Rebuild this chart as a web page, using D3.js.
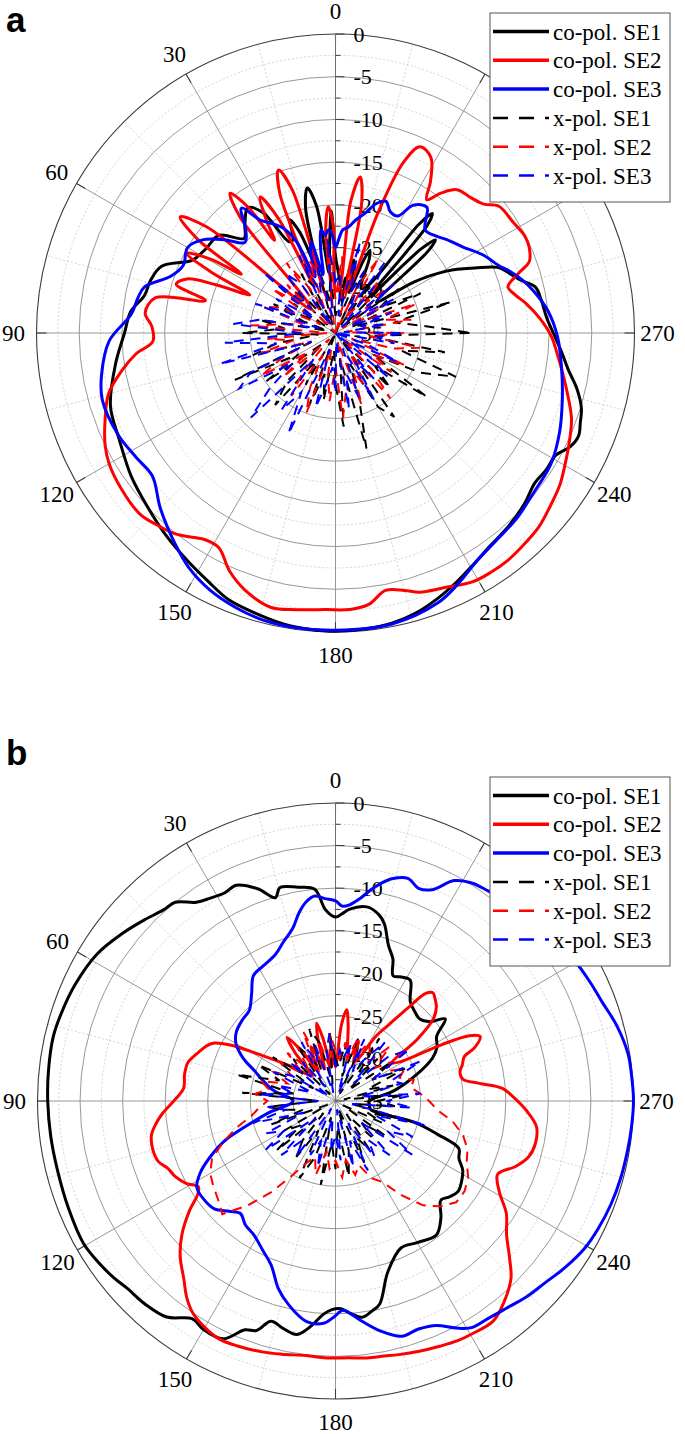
<!DOCTYPE html>
<html><head><meta charset="utf-8">
<script src="https://cdnjs.cloudflare.com/ajax/libs/d3/7.8.5/d3.min.js"></script>
<style>body{margin:0;background:#fff}svg{display:block}
.serif{font-family:"Liberation Serif","Times New Roman","DejaVu Serif",serif}
.sans{font-family:"Liberation Sans",Arial,sans-serif}</style>
</head><body>
<svg id="chart" width="685" height="1434"></svg>
<script>
// ---------------- DATA ----------------
const angleTicks = [0,30,60,90,120,150,180,210,240,270,300,330];
const angleTickLabels = ["0","30","60","90","120","150","180","210","240","270","",""];
const radialTicks = [0,-5,-10,-15,-20,-25,-30,-35];
const radialTickLabels = ["0","-5","-10","-15","-20","-25","-30","-35"];
const legendLabels = ["co-pol. SE1","co-pol. SE2","co-pol. SE3","x-pol. SE1","x-pol. SE2","x-pol. SE3"];
const seriesColors = ["#000000","#ff0000","#0000ff"];

// panel a, co-pol  [angle(deg), level(dB)]
const aCoSE1 = [[0,-26],[2,-20.7],[4,-25],[6,-28],[8.5,-20],[11,-17.7],[13.5,-20],[16,-27],[19.5,-22.5],[22,-20.7],[24.5,-23],[27,-23],[31,-18.6],[35,-17.1],[40,-18.5],[44,-19.6],[50,-17.2],[57,-16.9],[63,-16.2],[69,-13.2],[74,-12.5],[79,-12.2],[84,-10.9],[90,-10.3],[98,-9],[108,-7.3],[116,-6.8],[125,-5.8],[133,-5.0],[140,-4.1],[147,-3.2],[153,-2.3],[158,-1.4],[164,-0.9],[170,-0.4],[175,-0.2],[180,-0.1],[186,-0.2],[191,-0.4],[196,-0.9],[201,-1.7],[206,-2.6],[211,-3.5],[216,-4.2],[222,-4.65],[228,-5.2],[233,-5.8],[237,-5.6],[241,-5.5],[244,-4.5],[247,-4.1],[250,-4.5],[253,-4.9],[257,-6.0],[261,-7.4],[265,-8.4],[270,-9.5],[274,-10.2],[279,-10.6],[283,-11.0],[286,-12.5],[289,-13.5],[292,-14.5],[295,-17],[299,-20],[303,-24],[307,-29],[311.5,-20.5],[313,-19],[314.5,-21],[317,-29],[319.5,-18.5],[321,-17],[322.5,-19],[325,-28],[330,-29],[335.5,-25.5],[337.4,-24.5],[339,-26],[342,-30],[344.5,-27],[346,-26.2],[348,-28],[351,-31],[355,-29]];
const aCoSE2 = [[0,-30],[1.2,-22.5],[3.3,-20.2],[5.5,-23],[8,-31],[12,-31],[16.8,-17.5],[19.3,-14.8],[21.8,-17.5],[24.3,-29],[26.5,-20],[29,-16.8],[31.5,-19.5],[33.3,-22],[34.8,-17],[37,-14.5],[39.5,-17.5],[42,-30],[46,-31],[50.5,-15.5],[53.2,-12.3],[55.8,-15.5],[58,-22],[59.4,-18],[61.8,-15.2],[64,-19],[66,-24],[68,-20],[70,-16.5],[73,-15.5],[76,-19.3],[79,-13.5],[84,-12.6],[88,-13.5],[92.6,-13.6],[96,-11.5],[100,-9.6],[105,-7.5],[111,-6.1],[116,-5.0],[120,-4.4],[126,-4.0],[132.8,-3.8],[137,-4.3],[141.3,-4.9],[145,-5.8],[147.8,-6.4],[151.5,-6.4],[156,-4.5],[160.6,-3.1],[166.8,-2.0],[172,-2.3],[178,-2.6],[183,-2.6],[187,-3.0],[191,-4.3],[195,-3.8],[198,-3.1],[203,-2.6],[208.8,-1.75],[213,-1.6],[217,-1.6],[221,-1.8],[226.3,-2.1],[231,-2.7],[236,-3.3],[240,-4.0],[245,-4.8],[250,-5.6],[254,-6.6],[260,-8.0],[265,-9.0],[269,-9.7],[274,-11],[279,-12.5],[282,-13.5],[285,-14.1],[288,-12.5],[290.3,-10.8],[294,-10.2],[297,-10.1],[302,-10.5],[307.8,-10.8],[311,-12.0],[315,-12.6],[319.7,-13],[323,-14.5],[325.6,-16.1],[328,-14],[331.5,-11.6],[335.6,-11.05],[338.3,-13.5],[340.5,-20],[342.5,-29],[346,-30],[348.6,-19.5],[351,-16.5],[353.4,-19.5],[356,-30]];
const aCoSE3 = [[0,-25],[2,-23.5],[4,-22.9],[6,-23.5],[8,-22.8],[10,-25],[12,-28],[15,-24],[17,-25],[20,-28],[23,-23.5],[26,-21.5],[29,-20.5],[33.7,-19.1],[37,-16.7],[41,-19],[45,-20],[50,-18],[55,-16],[60,-15],[66,-15.5],[71,-14.6],[76.4,-12],[80,-11.5],[84.7,-11],[92,-8.5],[100,-7.2],[106,-6.6],[115,-6.9],[122,-7.5],[128,-7.8],[135,-6],[142.7,-4],[148,-2.6],[154,-1.5],[160,-0.8],[165.7,-0.35],[172,-0.2],[180,-0.2],[191,-0.3],[200.7,-1.2],[206,-2.3],[211.8,-3.6],[218,-4.3],[224.3,-4.65],[231,-5.2],[238.8,-5.5],[246,-6.3],[253.4,-7.3],[261,-8.2],[269,-9.0],[276,-10],[282,-11.3],[286,-12.3],[290,-13.5],[292,-14.2],[298,-15.5],[304,-17],[310,-18],[313.6,-18.6],[319,-19],[324,-16.8],[328.7,-17.5],[332,-19.5],[335.8,-19.4],[339,-18.5],[342.4,-19.1],[346,-20.5],[350,-21.6],[353,-22.5],[356,-22.9],[358,-24]];

// panel a, x-pol, one value every 5 degrees from 0
const xAngles = d3.range(0, 360, 5);
const aXSE1 = [-33,-28,-31,-27,-34,-29,-27,-33,-30,-28,-35,-29, -32,-27,-31,-34,-26,-29,-24,-33,-28,-25,-32,-22, -30,-25,-33,-27,-24,-31,-28,-35,-26,-30,-27,-33, -29,-24,-32,-21,-27,-31,-25,-23,-34,-26,-29,-22, -30,-24,-20,-27,-22,-31,-19,-25,-28,-21,-33,-24, -29,-26,-34,-27,-31,-28,-35,-27,-30,-33,-28,-32];
const aXSE2 = [-31,-25,-34,-28,-26,-32,-29,-25,-35,-27,-30,-26, -33,-28,-26,-31,-29,-25,-34,-27,-30,-26,-32,-28, -25,-31,-27,-34,-29,-26,-32,-28,-25,-33,-30,-27, -31,-25,-28,-34,-26,-30,-27,-32,-25,-29,-34,-27, -30,-26,-33,-28,-25,-31,-27,-34,-26,-29,-25,-32, -28,-34,-26,-30,-27,-33,-25,-29,-35,-27,-31,-26];
const aXSE3 = [-29,-24,-33,-27,-30,-25,-34,-28,-26,-31,-24,-32, -27,-30,-25,-33,-26,-23,-31,-22,-28,-21,-32,-24, -22,-29,-25,-21,-31,-24,-27,-22,-33,-26,-29,-31, -28,-34,-26,-30,-27,-33,-26,-31,-28,-35,-27,-30, -33,-27,-31,-35,-28,-30,-27,-34,-29,-32,-28,-33, -27,-31,-26,-34,-28,-25,-32,-27,-30,-24,-33,-28];

// panel b, co-pol
const bCoSE1 = [[0,-13.4],[3,-12.5],[5.6,-10],[10,-9.5],[14.6,-9.1],[16.5,-10.1],[20,-8.5],[24.7,-7.1],[28,-7.3],[31.7,-7],[35,-6.5],[38.9,-5],[42,-4.8],[46.4,-4.1],[51.6,-3.2],[58.4,-2.1],[65.9,-1.5],[72,-1.2],[77.1,-1.0],[84,-1.1],[90,-1.2],[97,-1.3],[104,-1.35],[112,-1.2],[119.5,-1.0],[124,-1.3],[128.6,-1.7],[132,-2.1],[136.8,-2.3],[142,-2.8],[146.7,-4.4],[150,-4.0],[154.7,-4.1],[158.4,-6.1],[161,-6.5],[163.7,-8.05],[167,-7.6],[170.6,-7.2],[174,-8.5],[176.7,-9.9],[179,-10.5],[181.5,-10.6],[184,-10],[187,-9.4],[190,-10],[192.3,-10.6],[197,-14],[204,-16.1],[210,-15.8],[217,-15.3],[222,-16.5],[226.7,-18],[230,-17.5],[233.6,-17.1],[238,-17.5],[241.5,-18],[245,-19],[249,-19.5],[252,-22.5],[254.8,-25.3],[256,-30.7],[262,-31],[270,-31],[280,-28],[288,-25],[294,-22.5],[298,-21.5],[302.6,-20.9],[306.8,-18.9],[310,-20.5],[314.4,-21.2],[318,-21],[323,-20.4],[328.3,-18.3],[332,-18.5],[335.3,-18.8],[338,-17],[341.2,-15.7],[344.6,-13.4],[347,-12.5],[350.8,-11.9],[355.8,-12.4],[358,-13]];
const bCoSE2 = [[0,-31],[4,-29],[7,-31],[11.3,-27.5],[13.6,-25.6],[15.9,-27.5],[19,-31],[22,-29],[24.5,-28],[27,-29.5],[30,-31],[34.6,-27.5],[37.2,-25.6],[39.8,-27.5],[43,-31],[48,-30],[53,-28],[58,-25],[62,-21],[64.5,-19.2],[67,-18.5],[70,-18],[75.3,-17.1],[80,-17],[85.2,-17.1],[90,-16],[94.2,-14.6],[97,-13.8],[100.6,-13],[105,-12.8],[108.8,-13],[112,-13.8],[115.3,-14.2],[119,-15],[122,-16],[124,-15.5],[127,-13.5],[131,-11.1],[135,-9.2],[139.4,-7.6],[143,-6],[146,-5.0],[150,-4.3],[153.8,-3.9],[158,-4.0],[163.7,-4.3],[168,-4.6],[173.4,-4.9],[178,-4.8],[183,-4.8],[187,-4.6],[190.8,-4.5],[194,-4.3],[198.5,-4.0],[203,-3.7],[207,-3.4],[210.2,-3.3],[215.6,-3.2],[220,-4.2],[224.7,-5.7],[228,-7.5],[232,-9.5],[236.7,-11],[241,-13],[245.7,-14.1],[250,-12.5],[253.8,-11.4],[258,-11],[262.7,-11.2],[267,-12.5],[271,-14],[274.4,-15.4],[277,-18],[279.6,-19.8],[283,-20],[286,-19.5],[289,-19],[291,-17.5],[294,-16.4],[296,-17.5],[298,-21],[301,-26],[304,-27],[307,-23],[310,-20],[313,-18.8],[316,-18.2],[318,-17.9],[320,-18.5],[322,-21],[325,-24],[328,-26],[331,-29],[335,-30],[339,-27.5],[342,-29.5],[346,-29],[350.5,-26],[353,-24.2],[355.5,-26],[358,-30]];
const bCoSE3 = [[0,-11.5],[3,-11.2],[5.8,-10.8],[8.5,-11.4],[11,-12.5],[13.9,-14.1],[18,-15.3],[22.3,-16.4],[28,-17],[33.2,-17.4],[38,-19],[43.5,-20.3],[49,-20.5],[55.1,-20.8],[60,-21.5],[65,-23],[70,-25],[73.7,-26],[80,-27.5],[90,-30],[100,-27],[106,-23.9],[110,-21],[114,-18.9],[118,-17],[122,-15.8],[127,-15.7],[131.7,-15.95],[136,-17],[139.8,-17.7],[144,-17],[148.5,-16.6],[154,-15.5],[158.6,-14.3],[163,-12],[166.9,-10.5],[172.4,-8.9],[176.9,-8.85],[179.5,-9.6],[182,-10.4],[184.5,-9.8],[187,-8.9],[191,-7.5],[195.7,-6.3],[200,-6.5],[204.2,-6.1],[208,-4.8],[211,-3.95],[215,-3.8],[219.5,-3.45],[224,-2.9],[229.2,-2.4],[234,-1.7],[239.5,-1.0],[244,-0.7],[249.4,-0.45],[255,-0.3],[260.8,-0.2],[265,-0.1],[270,0],[275,-0.1],[279.2,-0.2],[285,-0.8],[290.4,-1.6],[295,-2.0],[300,-2.4],[305,-3.0],[311.3,-3.5],[316,-3.9],[320.7,-4.2],[324,-4.5],[328,-4.8],[331.7,-5.6],[335.4,-7.7],[338.5,-8.2],[342,-7.5],[345.5,-8.0],[348,-8.8],[350.4,-9.8],[353,-11.0],[355.9,-11.9],[358,-12.1]];

// panel b, x-pol, one value every 5 degrees from 0
const bXSE1 = [-30,-27,-33,-28,-26,-31,-29,-27,-34,-28,-30,-26, -32,-25,-28,-23,-30,-24,-33,-27,-29,-31,-27,-34, -28,-30,-26,-33,-29,-27,-31,-25,-28,-33,-25,-30, -27,-32,-26,-29,-34,-27,-30,-28,-33,-29,-31,-28, -34,-29,-31,-27,-33,-28,-30,-27,-34,-28,-31,-26, -30,-27,-33,-28,-31,-26,-34,-29,-27,-32,-28,-31];
const bXSE2 = [-29,-27,-31,-28,-31,-26,-30,-27,-30,-27,-30,-27,-29,-27,-29,-26,-27,-25.5,-27,-26,-25,-23,-21,-19,-18,-17.5,-17,-16.2,-19,-22,-25,-27,-28,-26,-29,-27,-28,-26,-28,-26,-27,-25,-24,-21.5,-19,-17.5,-16.5,-16.5,-17,-18,-18.5,-19.5,-21,-23,-24,-25,-26,-25.5,-27,-26,-28,-27,-29,-26,-29,-28,-27,-29,-27,-30,-28,-30];
const bXSE3 = [-31,-27,-29,-34,-28,-30,-27,-33,-29,-31,-28,-34, -29,-27,-32,-28,-30,-26,-33,-27,-29,-25,-31,-26, -28,-25,-32,-26,-29,-27,-34,-28,-30,-27,-33,-29, -31,-28,-34,-27,-30,-26,-32,-27,-29,-26,-31,-24, -28,-25,-30,-24,-33,-26,-29,-25,-32,-27,-28,-24, -30,-24.5,-27,-32,-26,-29,-31,-27,-34,-28,-30,-29];

// ---------------- DRAW ----------------
const svg = d3.select("#chart");
const cx = 335.5;
const panels = [
  {cy: 333, R: 299, tag: "a", tagY: 32, legTop: 13,
   co: [aCoSE1, aCoSE2, aCoSE3], x: [aXSE1, aXSE2, aXSE3]},
  {cy: 1101, R: 298, tag: "b", tagY: 765, legTop: 777,
   co: [bCoSE1, bCoSE2, bCoSE3], x: [bXSE1, bXSE2, bXSE3]}
];
const rad = d => d * Math.PI / 180;

panels.forEach(p => {
  const g = svg.append("g").attr("transform", `translate(${cx},${p.cy})`);
  const r = d3.scaleLinear().domain([-35, 0]).range([0, p.R]).clamp(true);

  g.selectAll(".minring").data(d3.range(-32.5, 0, 5)).join("circle")
    .attr("r", d => r(d)).attr("fill", "none")
    .attr("stroke", "#c8c8c8").attr("stroke-width", 0.8).attr("stroke-dasharray", "2,2");
  g.selectAll(".minspoke").data(d3.range(15, 360, 30)).join("line")
    .attr("x1", 0).attr("y1", 0)
    .attr("x2", d => -p.R * Math.sin(rad(d))).attr("y2", d => -p.R * Math.cos(rad(d)))
    .attr("stroke", "#c8c8c8").attr("stroke-width", 0.8).attr("stroke-dasharray", "2,2");
  g.selectAll(".ring").data(radialTicks.filter(v => v > -35 && v < 0)).join("circle")
    .attr("r", d => r(d)).attr("fill", "none")
    .attr("stroke", "#8c8c8c").attr("stroke-width", 0.9);
  g.selectAll(".spoke").data(angleTicks).join("line")
    .attr("x1", 0).attr("y1", 0)
    .attr("x2", d => -p.R * Math.sin(rad(d))).attr("y2", d => -p.R * Math.cos(rad(d)))
    .attr("stroke", "#8c8c8c").attr("stroke-width", 0.9);
  g.append("circle").attr("r", p.R).attr("fill", "none").attr("stroke", "#3c3c3c").attr("stroke-width", 1.1);
  g.selectAll(".atick").data(angleTicks).join("line")
    .attr("x1", d => -(p.R - 10) * Math.sin(rad(d))).attr("y1", d => -(p.R - 10) * Math.cos(rad(d)))
    .attr("x2", d => -p.R * Math.sin(rad(d))).attr("y2", d => -p.R * Math.cos(rad(d)))
    .attr("stroke", "#3c3c3c").attr("stroke-width", 1.1);
  g.append("line").attr("x1", 0).attr("y1", 0).attr("x2", 0).attr("y2", -p.R)
    .attr("stroke", "#707070").attr("stroke-width", 1);
  g.selectAll(".rtick").data(d3.range(-35, 0.1, 2.5)).join("line")
    .attr("x1", 0).attr("x2", d => (Math.round(d / 5) * 5 === d) ? 9 : 5)
    .attr("y1", d => -r(d)).attr("y2", d => -r(d))
    .attr("stroke", "#3c3c3c").attr("stroke-width", 1);
  g.selectAll(".rlab").data(radialTicks).join("text")
    .attr("class", "serif")
    .attr("x", 18).attr("y", d => -r(d)).attr("dy", "0.35em")
    .attr("font-size", 22).attr("fill", "#000")
    .text((d, i) => radialTickLabels[i]);
  const RL = p.R + 23;
  g.selectAll(".alab").data(angleTicks.filter((d, i) => angleTickLabels[i] !== "")).join("text")
    .attr("class", "serif")
    .attr("x", d => -RL * Math.sin(rad(d))).attr("y", d => -RL * Math.cos(rad(d)))
    .attr("dy", "0.35em").attr("text-anchor", "middle")
    .attr("font-size", 23).attr("fill", "#000")
    .text(d => angleTickLabels[angleTicks.indexOf(d)]);

  const coLine = d3.lineRadial()
    .angle(d => -rad(d[0])).radius(d => r(d[1]))
    .curve(d3.curveCatmullRomClosed.alpha(0.5));
  const xLine = d3.lineRadial()
    .angle((d, i) => -rad(xAngles[i])).radius(d => r(d))
    .curve(d3.curveLinearClosed);
  p.co.forEach((s, i) => {
    g.append("path").attr("d", coLine(s)).attr("fill", "none")
      .attr("stroke", seriesColors[i]).attr("stroke-width", 3).attr("stroke-linejoin", "round");
  });
  p.x.forEach((s, i) => {
    g.append("path").attr("d", xLine(s)).attr("fill", "none")
      .attr("stroke", seriesColors[i]).attr("stroke-width", 2).attr("stroke-dasharray", "10,7");
  });

  svg.append("text").attr("class", "sans").attr("x", 6).attr("y", p.tagY)
    .attr("font-weight", "bold").attr("font-size", 35).text(p.tag);

  const lg = svg.append("g").attr("transform", `translate(490,${p.legTop})`);
  lg.append("rect").attr("width", 180).attr("height", 189)
    .attr("fill", "#fff").attr("stroke", "#555").attr("stroke-width", 1);
  legendLabels.forEach((lab, i) => {
    const y = 18.5 + i * 28.8;
    lg.append("line").attr("x1", 3).attr("x2", 59).attr("y1", y).attr("y2", y)
      .attr("stroke", seriesColors[i % 3]).attr("stroke-width", i < 3 ? 3.5 : 2.5)
      .attr("stroke-dasharray", i < 3 ? null : "15,11");
    lg.append("text").attr("class", "serif").attr("x", 63).attr("y", y).attr("dy", "0.35em")
      .attr("font-size", 23).text(lab);
  });
});
</script>
</body></html>
